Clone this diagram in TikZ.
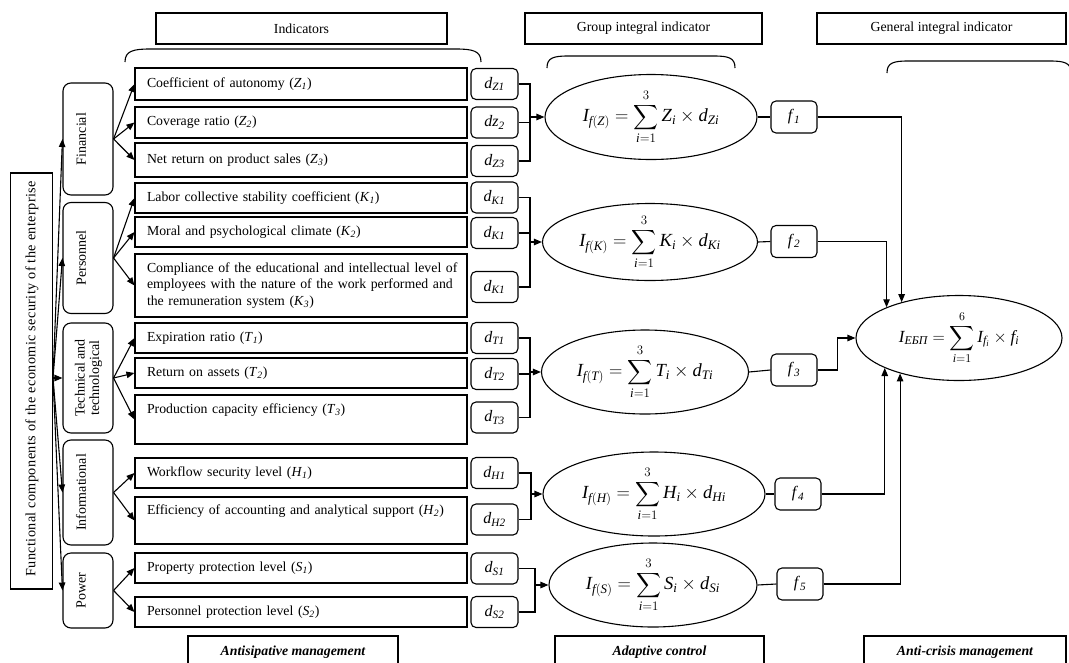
\RequirePackage{fix-cm}
\documentclass[tikz,border=0pt]{standalone}
\usepackage{amsmath}
\usepackage{fontspec}
\setmainfont{Liberation Serif}
\usetikzlibrary{arrows.meta,shapes.geometric,calc}
\newcommand\vit[1]{\mathit{#1}}
\begin{document}
\begin{tikzpicture}[x=1pt,y=-1pt,line width=1.1pt,
  every node/.style={font=\fontsize{13.8}{16.5}\selectfont},
  hdr/.style={draw,minimum height=31pt,inner sep=0pt},
  bot/.style={draw,minimum height=32pt,inner sep=0pt,font=\fontsize{13.8}{16.5}\selectfont\bfseries\itshape},
  cat/.style={draw,rounded corners=8pt,minimum width=50pt,inner sep=0pt},
  cattext/.style={rotate=90,align=center,inner sep=0pt,font=\fontsize{14}{14.5}\selectfont},
  ind/.style={draw,text width=308pt,align=left,inner xsep=12pt,inner ysep=2pt},
  dbox/.style={draw,rounded corners=5pt,minimum width=47pt,minimum height=31pt,inner sep=0pt,font=\fontsize{16}{18}\selectfont},
  fbox/.style={draw,rounded corners=5pt,minimum width=46pt,minimum height=32pt,inner sep=0pt,font=\fontsize{16}{18}\selectfont},
  ell/.style={draw,ellipse,inner sep=0pt,font=\fontsize{18.5}{22}\selectfont},
  arr/.style={-{Triangle[length=8pt,width=6.5pt]}}
]
\useasboundingbox (0,0) rectangle (1069,662);
\fill[white] (0,0) rectangle (1069,662);
\clip (0,0) rectangle (1069,662);

% headers
\node[hdr,minimum width=291pt] (h1) at (301.5,28.5) {Indicators};
\node[hdr,minimum width=237pt] (h2) at (643.5,28.5) {Group integral indicator};
\node[hdr,minimum width=249pt] (h3) at (941.5,28.5) {General integral indicator};

% braces
\draw (125,62) .. controls (125,51) and (133,49) .. (150,49) -- (456,49) .. controls (473,49) and (481,51) .. (481,62);
\draw (547,68) .. controls (547,58) and (553,56) .. (568,56) -- (714,56) .. controls (729,56) and (735,58) .. (735,68);
\draw (887,73) .. controls (887,63) and (893,61) .. (908,61) -- (1050,61) .. controls (1065,61) and (1071,63) .. (1071,73);

% main box
\node[draw,minimum width=42pt,minimum height=416pt,inner sep=0pt] (main) at (31.7,381) {};
\node[rotate=90,inner sep=0pt,font=\fontsize{14.2}{16}\selectfont\addfontfeature{LetterSpace=3}] (maint) at (32,379) {Functional components of the economic security of the enterprise};
\coordinate (o) at (53,378);

% category boxes
\node[cat,minimum height=112pt] (fin) at (88,139) {};
\node[cattext] (fint) at (81,139) {Financial};
\node[cat,minimum height=111pt] (per) at (88,258) {};
\node[cattext] (pert) at (81,258) {Personnel};
\node[cat,minimum height=110pt] (tec) at (88,378) {};
\node[cattext] (tect) at (88.5,378) {Technical and\\technological};
\node[cat,minimum height=105pt] (inf) at (88,492.5) {};
\node[cattext] (inft) at (81,492.5) {Informational};
\node[cat,minimum height=75pt] (pow) at (88,590.5) {};
\node[cattext] (powt) at (81,590.5) {Power};

\foreach \c in {fin,per,tec,inf,pow} \draw[arr] (o) -- (\c.west);

% indicator boxes
\node[ind,minimum height=32pt] (Z1) at (301,84) {Coefficient of autonomy (\textit{Z}\textsubscript{\textit{1}})};
\node[ind,minimum height=31pt] (Z2) at (301,122.5) {Coverage ratio (\textit{Z}\textsubscript{\textit{2}})};
\node[ind,minimum height=34pt] (Z3) at (301,160) {Net return on product sales (\textit{Z}\textsubscript{\textit{3}})};
\node[ind,minimum height=30pt] (K1) at (301,198) {Labor collective stability coefficient (\textit{K}\textsubscript{\textit{1}})};
\node[ind,minimum height=30pt] (K2) at (301,232) {Moral and psychological climate (\textit{K}\textsubscript{\textit{2}})};
\node[ind,minimum height=63pt] (K3) at (301,285.5) {\mbox{Compliance of the educational and intellectual level of}\\\mbox{employees with the nature of the work performed and}\\the remuneration system (\textit{K}\textsubscript{\textit{3}})};
\node[ind,minimum height=30pt] (T1) at (301,338) {Expiration ratio (\textit{T}\textsubscript{\textit{1}})};
\node[ind,minimum height=30pt] (T2) at (301,373) {Return on assets (\textit{T}\textsubscript{\textit{2}})};
\node[ind,minimum height=49pt,text depth=22pt] (T3) at (301,419.5) {Production capacity efficiency (\textit{T}\textsubscript{\textit{3}})};
\node[ind,minimum height=30pt] (H1) at (301,473) {Workflow security level (\textit{H}\textsubscript{\textit{1}})};
\node[ind,minimum height=47pt,text depth=22pt] (H2) at (301,520.5) {\mbox{Efficiency of accounting and analytical support (\textit{H}\textsubscript{\textit{2}})}};
\node[ind,minimum height=30pt] (S1) at (301,568) {Property protection level (\textit{S}\textsubscript{\textit{1}})};
\node[ind,minimum height=30pt] (S2) at (301,612) {Personnel protection level (\textit{S}\textsubscript{\textit{2}})};

\foreach \a/\b in {fin/Z1,fin/Z2,fin/Z3,per/K1,per/K2,per/K3,tec/T1,tec/T2,tec/T3,inf/H1,inf/H2,pow/S1,pow/S2}
  \draw[arr] (\a.east) -- (\b.west);

% d boxes
\node[dbox] (dZ1) at (494.5,84) {\textit{d}\textsubscript{\textit{Z1}}};
\node[dbox] (dZ2) at (494.5,122.5) {\textit{dz}\textsubscript{\textit{2}}};
\node[dbox] (dZ3) at (494.5,161) {\textit{d}\textsubscript{\textit{Z3}}};
\node[dbox] (dK1) at (494.5,197.5) {\textit{d}\textsubscript{\textit{K1}}};
\node[dbox] (dK2) at (494.5,233) {\textit{d}\textsubscript{\textit{K1}}};
\node[dbox] (dK3) at (494.5,287) {\textit{d}\textsubscript{\textit{K1}}};
\node[dbox] (dT1) at (494.5,338) {\textit{d}\textsubscript{\textit{T1}}};
\node[dbox] (dT2) at (494.5,374) {\textit{d}\textsubscript{\textit{T2}}};
\node[dbox] (dT3) at (494.5,417.5) {\textit{d}\textsubscript{\textit{T3}}};
\node[dbox] (dH1) at (494.5,473) {\textit{d}\textsubscript{\textit{H1}}};
\node[dbox] (dH2) at (494.5,519.5) {\textit{d}\textsubscript{\textit{H2}}};
\node[dbox] (dS1) at (494.5,568.5) {\textit{d}\textsubscript{\textit{S1}}};
\node[dbox] (dS2) at (494.5,612) {\textit{d}\textsubscript{\textit{S2}}};

% group ellipses
\node[ell,minimum width=212pt,minimum height=85pt] (eZ) at (651,117) {$\displaystyle \vit{I}_{\vit{f}(\vit{Z})} = \sum_{\vit{i}=1}^{3} \vit{Z}_{\vit{i}} \times \vit{d}_{\vit{Zi}}$};
\node[ell,minimum width=215pt,minimum height=77pt] (eK) at (650,242) {$\displaystyle \vit{I}_{\vit{f}(\vit{K})} = \sum_{\vit{i}=1}^{3} \vit{K}_{\vit{i}} \times \vit{d}_{\vit{Ki}}$};
\node[ell,minimum width=207pt,minimum height=84pt] (eT) at (645,372) {$\displaystyle \vit{I}_{\vit{f}(\vit{T})} = \sum_{\vit{i}=1}^{3} \vit{T}_{\vit{i}} \times \vit{d}_{\vit{Ti}}$};
\node[ell,minimum width=222pt,minimum height=84pt] (eH) at (654,494) {$\displaystyle \vit{I}_{\vit{f}(\vit{H})} = \sum_{\vit{i}=1}^{3} \vit{H}_{\vit{i}} \times \vit{d}_{\vit{Hi}}$};
\node[ell,minimum width=208pt,minimum height=84pt] (eS) at (653,585) {$\displaystyle \vit{I}_{\vit{f}(\vit{S})} = \sum_{\vit{i}=1}^{3} \vit{S}_{\vit{i}} \times \vit{d}_{\vit{Si}}$};

% buses
\coordinate (bZ) at (530,0);
\coordinate (bK) at (530,0);
\coordinate (bT) at (530,0);
\coordinate (bH) at (531,0);
\coordinate (bS) at (535,0);
\draw (dZ1.east) -- (dZ1.east -| bZ) -- (dZ3.east -| bZ) -- (dZ3.east);
\draw (dZ2.east) -- (dZ2.east -| bZ);
\draw[arr] (eZ.west -| bZ) -- (eZ.west);
\draw (dK1.east) -- (dK1.east -| bK) -- (dK3.east -| bK) -- (dK3.east);
\draw (dK2.east) -- (dK2.east -| bK);
\draw[arr] (eK.west -| bK) -- (eK.west);
\draw (dT1.east) -- (dT1.east -| bT) -- (dT3.east -| bT) -- (dT3.east);
\draw (dT2.east) -- (dT2.east -| bT);
\draw[arr] (eT.west -| bT) -- (eT.west);
\draw (dH1.east) -- (dH1.east -| bH) -- (dH2.east -| bH) -- (dH2.east);
\draw[arr] (eH.west -| bH) -- (eH.west);
\draw (dS1.east) -- (dS1.east -| bS) -- (dS2.east -| bS) -- (dS2.east);
\draw[arr] (eS.west -| bS) -- (eS.west);

% f boxes
\node[fbox] (f1) at (794,117) {\textit{f}\textsubscript{\textit{1}}};
\node[fbox] (f2) at (794,241.5) {\textit{f}\textsubscript{\textit{2}}};
\node[fbox] (f3) at (794,370) {\textit{f}\textsubscript{\textit{3}}};
\node[fbox] (f4) at (798,494) {\textit{f}\textsubscript{\textit{4}}};
\node[fbox] (f5) at (800,584) {\textit{f}\textsubscript{\textit{5}}};

\draw (eZ.east) -- (f1.west);
\draw (eK.east) -- (f2.west);
\draw (eT.east) -- (f3.west);
\draw (eH.east) -- (f4.west);
\draw (eS.east) -- (f5.west);

% general ellipse
\node[ell,minimum width=206pt,minimum height=85pt,font=\fontsize{17}{20}\selectfont] (E) at (959,338) {$\displaystyle \vit{I}_{\text{\itshape ЕБП}} = \sum_{\vit{i}=1}^{6} \vit{I}_{\vit{f}_{\vit{i}}} \times \vit{f}_{\vit{i}}$};

\draw[arr] (f1.east) -| (E.148.2);
\draw[arr] (f2.east) -| (E.157.1);
\draw[arr] (f3.east) -- ++(20,0) |- (E.west);
\draw[arr] (f4.east) -| (E.202.9);
\draw[arr] (f5.east) -| (E.211.8);

% bottom labels
\node[bot,minimum width=210pt] (b1) at (293,652) {Antisipative management};
\node[bot,minimum width=209pt] (b2) at (659.5,652) {Adaptive control};
\node[bot,minimum width=202pt] (b3) at (965,652) {Anti-crisis management};
\end{tikzpicture}
\end{document}
